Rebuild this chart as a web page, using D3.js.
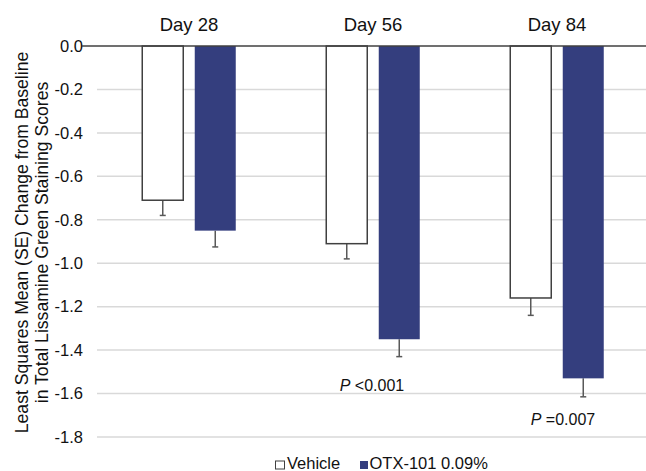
<!DOCTYPE html>
<html>
<head>
<meta charset="utf-8">
<script src="https://cdn.jsdelivr.net/npm/d3@7"></script>
<style>
  body { margin: 0; background: #fff; }
  text { font-family: Arial, "Liberation Sans", sans-serif; fill: #111; }
</style>
</head>
<body>
<div id="graf"></div>
<script>
const days = ["Day 28", "Day 56", "Day 84"]
const series = ["Vehicle", "OTX-101 0.09%"]
const vehicle = [-0.71, -0.91, -1.16]
const vehicleSE = [0.07, 0.07, 0.08]
const otx = [-0.85, -1.35, -1.53]
const otxSE = [0.075, 0.08, 0.085]
const yTicks = [0, -0.2, -0.4, -0.6, -0.8, -1.0, -1.2, -1.4, -1.6, -1.8]
const pLabels = ["", "<0.001", "=0.007"]
const pLevel = [null, -1.59, -1.745]

const anchoTotal = 646
const altoTotal = 471

const svg = d3.select("#graf")
  .append("svg")
  .attr("width", anchoTotal)
  .attr("height", altoTotal)

const x = d3.scaleBand().domain(days).range([97, 649])
const x1 = d3.scaleBand().domain(series).range([0, x.bandwidth()])
  .paddingInner(0.219).paddingOuter(0.862)
const y = d3.scaleLinear().domain([0, -1.8]).range([46, 437])

// gridlines
svg.append("g")
  .selectAll("line")
  .data(yTicks.filter((d) => d !== 0))
  .enter()
  .append("line")
  .attr("x1", 97)
  .attr("x2", anchoTotal)
  .attr("y1", (d) => y(d))
  .attr("y2", (d) => y(d))
  .attr("stroke", "#d9d9d9")
  .attr("stroke-width", 1.5)

// tick labels
const yAxis = svg.append("g")
  .attr("transform", "translate(83,0)")
  .call(d3.axisLeft(y).tickValues(yTicks).tickFormat(d3.format(".1f")).tickSize(0))
yAxis.select(".domain").remove()
yAxis.selectAll("text")
  .attr("x", 0)
  .style("font-size", "16.5px")
  .style("font-family", "Arial, 'Liberation Sans', sans-serif")
  .attr("fill", "#111")
  .text((d) => d3.format(".1f")(d).replace("−", "-"))

// bars
const data = days.map((d, i) => ({
  day: d,
  vals: [
    { s: series[0], v: vehicle[i], se: vehicleSE[i] },
    { s: series[1], v: otx[i], se: otxSE[i] },
  ],
}))

const groups = svg.append("g")
  .selectAll("g")
  .data(data)
  .enter()
  .append("g")
  .attr("transform", (d) => `translate(${x(d.day)},0)`)

groups.selectAll("line.err")
  .data((d) => d.vals)
  .enter()
  .append("line")
  .attr("class", "err")
  .attr("x1", (d) => x1(d.s) + x1.bandwidth() / 2)
  .attr("x2", (d) => x1(d.s) + x1.bandwidth() / 2)
  .attr("y1", (d) => y(d.v))
  .attr("y2", (d) => y(d.v - d.se))
  .attr("stroke", "#595959")
  .attr("stroke-width", 1.5)

groups.selectAll("line.cap")
  .data((d) => d.vals)
  .enter()
  .append("line")
  .attr("class", "cap")
  .attr("x1", (d) => x1(d.s) + x1.bandwidth() / 2 - 3)
  .attr("x2", (d) => x1(d.s) + x1.bandwidth() / 2 + 3)
  .attr("y1", (d) => y(d.v - d.se))
  .attr("y2", (d) => y(d.v - d.se))
  .attr("stroke", "#595959")
  .attr("stroke-width", 1.5)

groups.selectAll("rect")
  .data((d) => d.vals)
  .enter()
  .append("rect")
  .attr("x", (d) => x1(d.s))
  .attr("y", y(0))
  .attr("width", x1.bandwidth())
  .attr("height", (d) => y(d.v) - y(0))
  .attr("fill", (d) => (d.s === series[0] ? "#ffffff" : "#343e7e"))
  .attr("stroke", (d) => (d.s === series[0] ? "#404040" : "none"))
  .attr("stroke-width", 1.5)

// zero line
svg.append("line")
  .attr("x1", 82)
  .attr("x2", anchoTotal)
  .attr("y1", y(0))
  .attr("y2", y(0))
  .attr("stroke", "#404040")
  .attr("stroke-width", 1.5)

// day titles
svg.append("g")
  .selectAll("text")
  .data(days)
  .enter()
  .append("text")
  .attr("x", (d) => x(d) + x.bandwidth() / 2)
  .attr("y", 30.5)
  .attr("text-anchor", "middle")
  .style("font-size", "18.5px")
  .text((d) => d)

// p values
const pOffset = [0, -1, 6]
days.forEach((d, i) => {
  if (!pLabels[i]) return
  const t = svg.append("text")
    .attr("x", x(d) + x.bandwidth() / 2 + pOffset[i])
    .attr("y", y(pLevel[i]))
    .attr("text-anchor", "middle")
    .style("font-size", "16px")
  t.append("tspan").attr("font-style", "italic").text("P")
  t.append("tspan").text(" " + pLabels[i])
})

// y title
const yTitle = svg.append("text")
  .attr("transform", "translate(28,242.5) rotate(-90)")
  .attr("text-anchor", "middle")
  .style("font-size", "17.6px")
yTitle.append("tspan").attr("x", 0).attr("y", 0)
  .text("Least Squares Mean (SE) Change from Baseline")
yTitle.append("tspan").attr("x", 0).attr("y", 19.5)
  .text("in Total Lissamine Green Staining Scores")

// legend
const legend = svg.append("g").attr("transform", "translate(275,469)")
legend.append("rect")
  .attr("x", 0.5).attr("y", -8)
  .attr("width", 9).attr("height", 8)
  .attr("fill", "#fff").attr("stroke", "#404040").attr("stroke-width", 1)
legend.append("text").attr("x", 12).attr("y", 0)
  .style("font-size", "16.5px").text(series[0])
legend.append("rect")
  .attr("x", 85).attr("y", -8)
  .attr("width", 8).attr("height", 8)
  .attr("fill", "#343e7e")
legend.append("text").attr("x", 94.5).attr("y", 0)
  .style("font-size", "16.5px").text(series[1])
</script>
</body>
</html>
